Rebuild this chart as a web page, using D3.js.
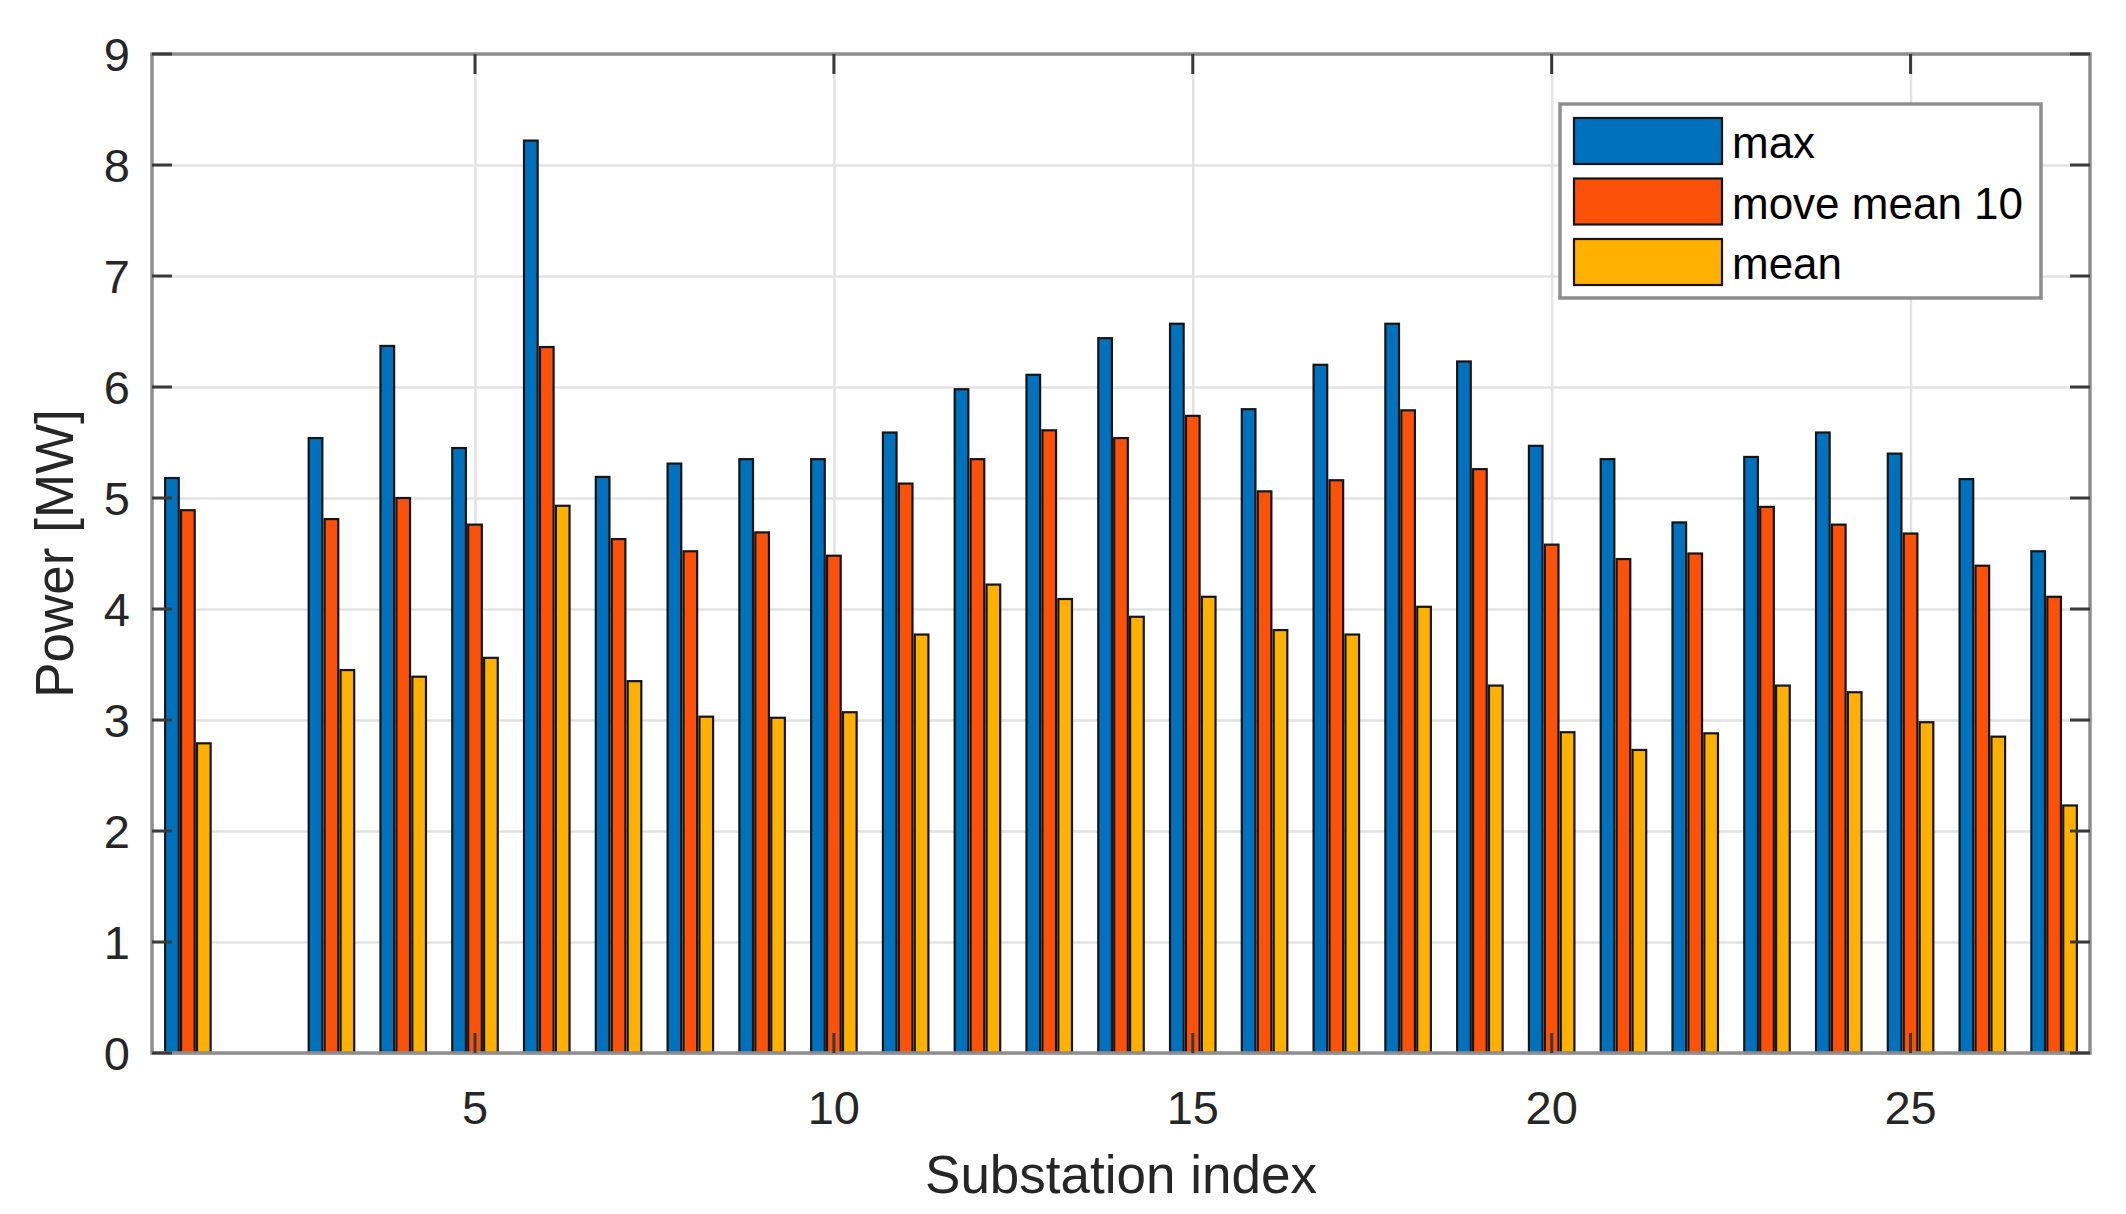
<!DOCTYPE html>
<html>
<head>
<meta charset="utf-8">
<script src="https://cdn.jsdelivr.net/npm/d3@7"></script>
<style>
    body { margin: 0; background: #fff; }
    svg { display: block; font-family: "Liberation Sans", Arial, sans-serif; }
</style>
</head>
<body>
<div id="chart"></div>
<script>
// Substation index 1..27 (index 2 has no data)
const substations = d3.range(1, 28);
const maxPower   = [5.18, null, 5.54, 6.37, 5.45, 8.22, 5.19, 5.31, 5.35, 5.35, 5.59, 5.98, 6.11, 6.44, 6.57, 5.80, 6.20, 6.57, 6.23, 5.47, 5.35, 4.78, 5.37, 5.59, 5.40, 5.17, 4.52];
const moveMean10 = [4.89, null, 4.81, 5.00, 4.76, 6.36, 4.63, 4.52, 4.69, 4.48, 5.13, 5.35, 5.61, 5.54, 5.74, 5.06, 5.16, 5.79, 5.26, 4.58, 4.45, 4.50, 4.92, 4.76, 4.68, 4.39, 4.11];
const meanPower  = [2.79, null, 3.45, 3.39, 3.56, 4.93, 3.35, 3.03, 3.02, 3.07, 3.77, 4.22, 4.09, 3.93, 4.11, 3.81, 3.77, 4.02, 3.31, 2.89, 2.73, 2.88, 3.31, 3.25, 2.98, 2.85, 2.23];
const seriesNames = ["max", "move mean 10", "mean"];
const xTickValues = [5, 10, 15, 20, 25];
const yTickValues = [0, 1, 2, 3, 4, 5, 6, 7, 8, 9];

const colors = ["#0072BD", "#FC5108", "#FFB000"];
const width = 2126, height = 1214;
const margin = {top: 54, left: 152, right: 36, bottom: 161};

const svg = d3.select("#chart").append("svg")
    .attr("width", width)
    .attr("height", height);

const x = d3.scaleLinear()
    .domain([0.5, 27.5])
    .range([margin.left, width - margin.right]);

const y = d3.scaleLinear()
    .domain([0, 9])
    .range([height - margin.bottom, margin.top]);

const x0 = margin.left, x1 = width - margin.right;
const y0 = height - margin.bottom, y1 = margin.top;

// gridlines (drawn below the bars)
svg.append("g")
    .attr("transform", "translate(0," + y0 + ")")
    .call(d3.axisBottom(x).tickValues(xTickValues).tickSize(-(y0 - y1)).tickFormat(""))
    .call(g => g.select(".domain").remove())
    .call(g => g.selectAll("line").style("stroke", "#e3e3e3").style("stroke-width", 2.5));

svg.append("g")
    .attr("transform", "translate(" + x0 + ",0)")
    .call(d3.axisLeft(y).tickValues(yTickValues).tickSize(-(x1 - x0)).tickFormat(""))
    .call(g => g.select(".domain").remove())
    .call(g => g.selectAll("line").style("stroke", "#e3e3e3").style("stroke-width", 2.5));

// grouped bars
const allSeries = [maxPower, moveMean10, meanPower];
const offsets = [-0.222, 0, 0.222];
const barW = 0.19;

allSeries.forEach((values, s) => {
    const data = substations.map((idx, i) => ({idx: idx, v: values[i]}))
        .filter(d => d.v !== null);
    svg.append("g")
        .selectAll("rect")
        .data(data)
        .enter().append("rect")
        .attr("x", d => x(d.idx + offsets[s] - barW / 2))
        .attr("width", d => x(d.idx + offsets[s] + barW / 2) - x(d.idx + offsets[s] - barW / 2))
        .attr("y", d => y(d.v))
        .attr("height", d => y(0) - y(d.v))
        .style("fill", colors[s])
        .style("stroke", "#151515")
        .style("stroke-width", 2.2);
});

// box frame
svg.append("rect")
    .attr("x", x0).attr("y", y1)
    .attr("width", x1 - x0).attr("height", y0 - y1)
    .style("fill", "none")
    .style("stroke", "#8e8e8e")
    .style("stroke-width", 3.5);

// inward ticks on all sides
const tickLen = 20;
const tickStyle = g => g.selectAll("line").style("stroke", "#3a3a3a").style("stroke-width", 3);

svg.append("g").selectAll("line").data(yTickValues).enter().append("line")
    .attr("x1", x0).attr("x2", x0 + tickLen)
    .attr("y1", d => y(d)).attr("y2", d => y(d));
svg.append("g").selectAll("line").data(yTickValues).enter().append("line")
    .attr("x1", x1).attr("x2", x1 - tickLen)
    .attr("y1", d => y(d)).attr("y2", d => y(d));
svg.append("g").selectAll("line").data(xTickValues).enter().append("line")
    .attr("x1", d => x(d)).attr("x2", d => x(d))
    .attr("y1", y0).attr("y2", y0 - tickLen);
svg.append("g").selectAll("line").data(xTickValues).enter().append("line")
    .attr("x1", d => x(d)).attr("x2", d => x(d))
    .attr("y1", y1).attr("y2", y1 + tickLen);
svg.selectAll("g").filter(function () { return !this.getAttribute("transform"); }).call(tickStyle);

// tick labels
svg.append("g").selectAll("text").data(yTickValues).enter().append("text")
    .attr("x", x0 - 22)
    .attr("y", d => y(d))
    .attr("dy", "0.36em")
    .attr("text-anchor", "end")
    .style("font-size", "47px")
    .style("fill", "#262626")
    .text(d => d);

svg.append("g").selectAll("text").data(xTickValues).enter().append("text")
    .attr("x", d => x(d))
    .attr("y", y0 + 71)
    .attr("text-anchor", "middle")
    .style("font-size", "47px")
    .style("fill", "#262626")
    .text(d => d);

// axis labels
svg.append("text")
    .attr("x", (x0 + x1) / 2)
    .attr("y", 1193)
    .attr("text-anchor", "middle")
    .style("font-size", "53px")
    .style("fill", "#262626")
    .text("Substation index");

svg.append("text")
    .attr("transform", "translate(73," + ((y0 + y1) / 2) + ") rotate(-90)")
    .attr("text-anchor", "middle")
    .style("font-size", "53px")
    .style("fill", "#262626")
    .text("Power [MW]");

// legend
const legend = svg.append("g");
legend.append("rect")
    .attr("x", 1560).attr("y", 104)
    .attr("width", 481).attr("height", 194)
    .style("fill", "#fff")
    .style("stroke", "#8e8e8e")
    .style("stroke-width", 3.5);

seriesNames.forEach((name, i) => {
    const top = 118 + i * 60.5;
    legend.append("rect")
        .attr("x", 1574).attr("y", top)
        .attr("width", 148).attr("height", 46)
        .style("fill", colors[i])
        .style("stroke", "#151515")
        .style("stroke-width", 2.2);
    legend.append("text")
        .attr("x", 1732).attr("y", top + 40)
        .style("font-size", "44px")
        .style("fill", "#000")
        .text(name);
});
</script>
</body>
</html>
